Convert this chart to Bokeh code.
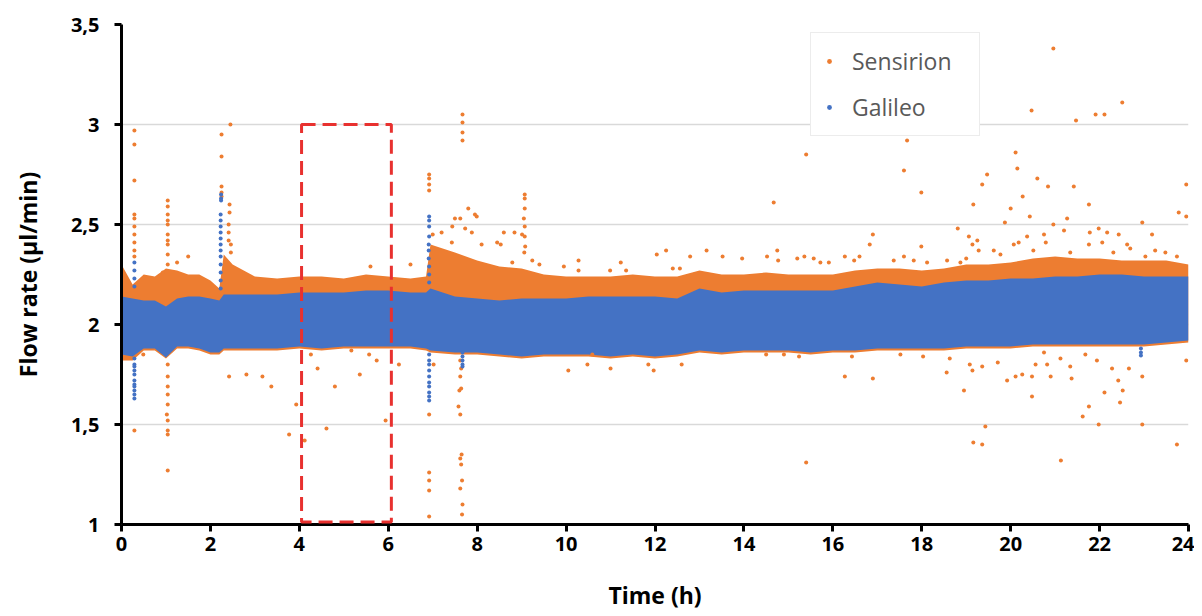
from bokeh.plotting import figure
from bokeh.models import Range1d, Legend, LegendItem, CustomJSTickFormatter, FixedTicker, BoxAnnotation
from bokeh.embed import file_html
from bokeh.resources import INLINE

# ---------------- data ----------------
x_ticks = [0, 2, 4, 6, 8, 10, 12, 14, 16, 18, 20, 22, 24]
y_ticks = [1, 1.5, 2, 2.5, 3, 3.5]

# dense cloud envelopes, sampled along time (h)
band_t  = [0, 0.25, 0.5, 0.75, 1.0, 1.25, 1.5, 1.75, 2.0, 2.2, 2.3, 2.5, 3.0, 3.5, 4.0, 4.5, 5.0, 5.5, 6.0, 6.5,
           6.85, 6.95, 7.5, 8.0, 8.5, 9.0, 9.5, 10, 10.5, 11, 11.5, 12, 12.5, 13, 13.5, 14, 14.5, 15, 15.5, 16,
           16.5, 17, 17.5, 18, 18.5, 19, 19.5, 20, 20.5, 21, 21.5, 22, 22.5, 23, 23.5, 24]
sens_hi = [2.30, 2.20, 2.25, 2.24, 2.28, 2.27, 2.25, 2.25, 2.22, 2.18, 2.35, 2.30, 2.24, 2.23, 2.24, 2.24, 2.23, 2.25, 2.24, 2.23,
           2.24, 2.40, 2.36, 2.32, 2.29, 2.28, 2.25, 2.24, 2.24, 2.24, 2.25, 2.24, 2.24, 2.27, 2.25, 2.25, 2.26, 2.25, 2.25, 2.25,
           2.27, 2.28, 2.28, 2.27, 2.28, 2.30, 2.30, 2.31, 2.33, 2.34, 2.33, 2.33, 2.32, 2.32, 2.32, 2.30]
sens_lo = [1.82, 1.82, 1.87, 1.87, 1.83, 1.88, 1.88, 1.87, 1.85, 1.85, 1.87, 1.87, 1.87, 1.87, 1.88, 1.87, 1.88, 1.88, 1.88, 1.88,
           1.87, 1.86, 1.85, 1.85, 1.84, 1.83, 1.84, 1.84, 1.84, 1.83, 1.84, 1.83, 1.84, 1.86, 1.85, 1.86, 1.86, 1.86, 1.85, 1.86,
           1.86, 1.87, 1.87, 1.87, 1.87, 1.88, 1.88, 1.88, 1.89, 1.89, 1.89, 1.89, 1.89, 1.89, 1.90, 1.91]
gal_hi  = [2.14, 2.13, 2.12, 2.12, 2.09, 2.13, 2.14, 2.14, 2.13, 2.12, 2.15, 2.15, 2.15, 2.15, 2.16, 2.16, 2.16, 2.17, 2.17, 2.16,
           2.16, 2.18, 2.14, 2.13, 2.12, 2.13, 2.13, 2.13, 2.14, 2.14, 2.14, 2.14, 2.13, 2.18, 2.16, 2.17, 2.17, 2.17, 2.17, 2.17,
           2.19, 2.21, 2.20, 2.19, 2.21, 2.22, 2.22, 2.23, 2.23, 2.24, 2.24, 2.25, 2.25, 2.24, 2.24, 2.24]
gal_lo  = [1.85, 1.84, 1.88, 1.88, 1.835, 1.89, 1.89, 1.88, 1.86, 1.86, 1.88, 1.88, 1.88, 1.88, 1.89, 1.88, 1.89, 1.89, 1.89, 1.89,
           1.88, 1.87, 1.86, 1.86, 1.85, 1.84, 1.85, 1.85, 1.85, 1.84, 1.85, 1.84, 1.85, 1.87, 1.86, 1.87, 1.87, 1.87, 1.86, 1.87,
           1.87, 1.88, 1.88, 1.88, 1.88, 1.89, 1.89, 1.89, 1.90, 1.90, 1.90, 1.90, 1.90, 1.90, 1.91, 1.92]

# isolated Sensirion points
sens_t = [0.29, 0.29, 0.29, 0.29, 0.29, 0.29, 0.29, 0.29, 0.29, 0.29, 0.29, 0.49, 0.93,
          1.04, 1.04, 1.04, 1.04, 1.04, 1.04, 1.04, 1.04, 1.04, 1.04,
          1.04, 1.04, 1.04, 1.04, 1.04, 1.02, 1.04, 1.04, 1.04, 1.04, 1.25, 1.50,
          2.25, 2.25, 2.25, 2.25, 2.25, 2.45, 2.43, 2.43, 2.41, 2.41, 2.41, 2.46, 2.46,
          2.42, 2.81, 3.17, 3.37, 3.93, 3.77, 4.12,
          5.60, 4.26, 4.41, 4.80, 5.17, 5.36, 5.57, 4.61, 5.74, 5.94, 6.24, 6.50,
          6.92, 6.92, 6.92, 6.92, 6.92, 6.92, 6.92, 6.92, 6.92,
          7.67, 7.67, 7.67, 7.67,
          7.62, 7.64, 7.62, 7.64, 7.60, 7.58, 7.62, 7.65, 7.62, 7.64, 7.66, 7.62, 7.67, 7.66,
          7.80, 7.95, 7.99, 7.50, 7.44, 7.62, 7.20, 7.73, 7.88, 8.10, 7.00, 7.43, 8.45, 7.02,
          9.07, 9.07, 9.07, 9.05, 9.07, 9.07, 9.08, 9.06, 8.60, 8.84, 9.01, 8.53, 8.79, 9.24, 9.40, 9.95,
          10.28, 10.28, 10.99, 11.23, 11.35, 12.04, 12.25, 12.40, 12.56, 12.79,
          10.05, 10.48, 11.00, 11.85, 11.97, 12.60, 10.59,
          15.40, 14.67, 16.90, 16.83, 13.16, 13.52, 13.96, 14.52, 14.75, 14.77, 15.20, 15.36, 15.57, 15.72,
          15.91, 16.27, 16.48, 16.60,
          15.40, 16.27, 16.90, 15.24, 14.90, 16.43, 14.50,
          20.47, 17.67, 17.60, 17.99, 20.11, 20.15, 19.47, 19.36, 20.60, 19.16, 20.27, 20.00, 18.81, 19.87,
          20.43, 17.99, 19.06, 19.25, 19.14, 20.37, 20.18, 20.07, 19.28, 19.62, 19.77, 17.60, 17.37, 17.82,
          18.12, 18.57, 18.87, 19.00,
          19.43, 19.16, 19.36, 18.95, 18.56, 20.48, 18.03, 18.63, 19.08, 19.14, 19.36, 19.71, 19.92, 20.11,
          20.26, 20.48, 20.56, 17.52,
          20.96, 21.47, 21.91, 22.11, 22.51, 20.84, 21.42, 21.76, 23.95, 23.78, 23.95, 21.27, 22.96, 20.96,
          20.75, 21.20, 21.78, 21.98, 22.17, 22.43, 23.18, 20.79, 21.76, 22.06, 22.62, 22.69, 20.51, 21.34,
          22.31, 23.25, 23.03, 23.48, 23.74,
          21.13, 23.74, 21.98, 22.96, 21.62, 21.76, 22.11, 22.46, 21.37, 22.42, 22.52, 22.96, 20.90, 21.34,
          22.28, 22.66, 23.95, 20.82, 21.12, 21.68, 21.94, 20.75]
sens_v = [2.97, 2.90, 2.72, 2.55, 2.53, 2.49, 2.45, 2.41, 2.37, 2.34, 1.47, 1.85, 2.26,
          2.62, 2.59, 2.55, 2.52, 2.50, 2.45, 2.42, 2.40, 2.35, 2.30,
          1.80, 1.74, 1.69, 1.65, 1.60, 1.55, 1.52, 1.47, 1.45, 1.27, 2.31, 2.34,
          2.95, 2.84, 2.69, 2.66, 2.64, 3.00, 2.60, 2.56, 2.50, 2.46, 2.42, 2.40, 2.36,
          1.74, 1.75, 1.74, 1.69, 1.60, 1.45, 1.42,
          2.29, 1.85, 1.78, 1.69, 1.87, 1.75, 1.85, 1.48, 1.82, 1.52, 1.80, 2.30,
          2.75, 2.73, 2.70, 2.67, 1.55, 1.26, 1.22, 1.17, 1.04,
          3.05, 3.01, 2.96, 2.92,
          1.82, 1.78, 1.74, 1.68, 1.67, 1.59, 1.55, 1.35, 1.33, 1.30, 1.22, 1.18, 1.10, 1.05,
          2.58, 2.55, 2.54, 2.53, 2.49, 2.53, 2.46, 2.48, 2.46, 2.40, 2.45, 2.41, 2.41, 1.80,
          2.65, 2.63, 2.58, 2.53, 2.49, 2.44, 2.39, 2.36, 2.46, 2.46, 2.45, 2.40, 2.31, 2.32, 2.30, 2.29,
          2.32, 2.27, 2.27, 2.31, 2.27, 2.35, 2.37, 2.28, 2.28, 2.34,
          1.77, 1.80, 1.78, 1.80, 1.77, 1.80, 1.85,
          2.85, 2.61, 2.45, 2.40, 2.37, 2.34, 2.33, 2.34, 2.37, 2.32, 2.33, 2.34, 2.33, 2.31,
          2.31, 2.34, 2.32, 2.34,
          1.31, 1.74, 1.73, 1.84, 1.85, 1.84, 1.85,
          3.07, 2.92, 2.77, 2.66, 2.86, 2.78, 2.75, 2.70, 2.73, 2.60, 2.64, 2.58, 2.48, 2.51,
          2.54, 2.39, 2.44, 2.42, 2.40, 2.44, 2.41, 2.40, 2.37, 2.37, 2.35, 2.34, 2.32, 2.32,
          2.31, 2.32, 2.31, 2.33,
          1.49, 1.41, 1.40, 1.67, 1.76, 1.64, 1.84, 1.83, 1.80, 1.77, 1.79, 1.81, 1.72, 1.74,
          1.75, 1.74, 1.80, 1.85,
          3.38, 3.02, 3.05, 3.05, 3.11, 2.69, 2.69, 2.60, 2.70, 2.56, 2.54, 2.53, 2.51, 2.50,
          2.45, 2.47, 2.46, 2.48, 2.46, 2.45, 2.45, 2.41, 2.40, 2.41, 2.40, 2.38, 2.37, 2.36,
          2.36, 2.37, 2.34, 2.36, 2.34,
          1.32, 1.40, 1.50, 1.50, 1.54, 1.59, 1.66, 1.61, 1.73, 1.72, 1.67, 1.74, 1.74, 1.79,
          1.78, 1.78, 1.82, 1.80, 1.83, 1.85, 1.82, 1.86]

# isolated Galileo points
gal_t = [0.29, 0.29, 0.29, 0.29,
         0.29, 0.29, 0.29, 0.29, 0.29, 0.29, 0.29, 0.29, 0.29, 0.29, 0.29,
         2.24, 2.24, 2.24, 2.23, 2.23, 2.23, 2.23, 2.23, 2.23, 2.23, 2.23, 2.23, 2.23, 2.23, 2.23,
         6.92, 6.92, 6.92, 6.92, 6.91, 6.91, 6.91, 6.92, 6.92, 6.92,
         6.92, 6.92, 6.92, 6.92, 6.92, 6.92, 6.92, 6.92, 6.92, 6.92,
         7.67, 7.67, 7.67, 7.67, 7.67,
         22.93, 22.93, 22.93]
gal_v = [2.31, 2.27, 2.23, 2.19,
         1.83, 1.80, 1.79, 1.77, 1.75, 1.72, 1.70, 1.69, 1.67, 1.65, 1.63,
         2.65, 2.63, 2.62, 2.55, 2.52, 2.49, 2.46, 2.43, 2.40, 2.37, 2.34, 2.30, 2.26, 2.22, 2.18,
         2.54, 2.52, 2.49, 2.44, 2.40, 2.37, 2.33, 2.29, 2.25, 2.21,
         1.85, 1.82, 1.80, 1.77, 1.74, 1.71, 1.69, 1.66, 1.64, 1.62,
         1.86, 1.84, 1.82, 1.80, 1.79,
         1.88, 1.86, 1.845]

# highlighted window (time, flow rate)
window_t = [4.05, 6.07]
window_v = [1.013, 3.0]

ORANGE = "#ED7D31"
BLUE = "#4472C4"
FONT = "Open Sans"

p = figure(frame_width=1067, frame_height=500,
           x_range=Range1d(0, 24), y_range=Range1d(1, 3.5),
           output_backend="svg", toolbar_location=None,
           min_border_left=121, min_border_top=24, min_border_right=6, min_border_bottom=78)

p.varea(x=band_t, y1=sens_lo, y2=sens_hi, fill_color=ORANGE)
p.varea(x=band_t, y1=gal_lo, y2=gal_hi, fill_color=BLUE)
r_s = p.scatter(sens_t, sens_v, size=4, fill_color=ORANGE, line_color=None)
r_g = p.scatter(gal_t, gal_v, size=4, fill_color=BLUE, line_color=None)

p.add_layout(BoxAnnotation(left=window_t[0], right=window_t[1], bottom=window_v[0], top=window_v[1],
                           fill_alpha=0, line_color="#E8312F", line_alpha=1.0, line_width=3, line_dash="14 7"))

p.xaxis.ticker = FixedTicker(ticks=x_ticks)
p.yaxis.ticker = FixedTicker(ticks=y_ticks)
p.yaxis.formatter = CustomJSTickFormatter(code="return tick.toString().replace('.', ',');")
p.xaxis.axis_label = "Time (h)"
p.yaxis.axis_label = "Flow rate (µl/min)"

for ax in (p.xaxis, p.yaxis):
    ax.axis_line_width = 3
    ax.axis_line_color = "black"
    ax.major_tick_line_width = 3
    ax.major_tick_line_color = "black"
    ax.major_tick_out = 7
    ax.major_tick_in = 0
    ax.minor_tick_line_color = None
    ax.major_label_text_font = FONT
    ax.major_label_text_font_style = "bold"
    ax.major_label_text_font_size = "20px"
    ax.major_label_text_color = "black"
    ax.axis_label_text_font = FONT
    ax.axis_label_text_font_style = "bold"
    ax.axis_label_text_font_size = "23px"
    ax.axis_label_text_color = "black"

p.xaxis.major_label_standoff = 5
p.xaxis.axis_label_standoff = 25
p.yaxis.major_label_standoff = 15
p.yaxis.axis_label_standoff = 24

p.xgrid.visible = False
p.ygrid.grid_line_color = "#d9d9d9"
p.ygrid.grid_line_width = 1.5
p.outline_line_color = None

legend = Legend(items=[LegendItem(label="Sensirion", renderers=[r_s]),
                       LegendItem(label="Galileo", renderers=[r_g])],
                location=(689, 388), orientation="vertical",
                label_text_font=FONT, label_text_font_size="23px", label_text_color="#595959",
                glyph_width=12, glyph_height=12, label_height=31, label_width=115, label_standoff=17,
                spacing=14, padding=12, margin=0,
                border_line_color="#d9d9d9", border_line_width=1.5,
                background_fill_color="white", background_fill_alpha=1)
p.add_layout(legend)

open("out.html", "w").write(file_html(p, INLINE))
